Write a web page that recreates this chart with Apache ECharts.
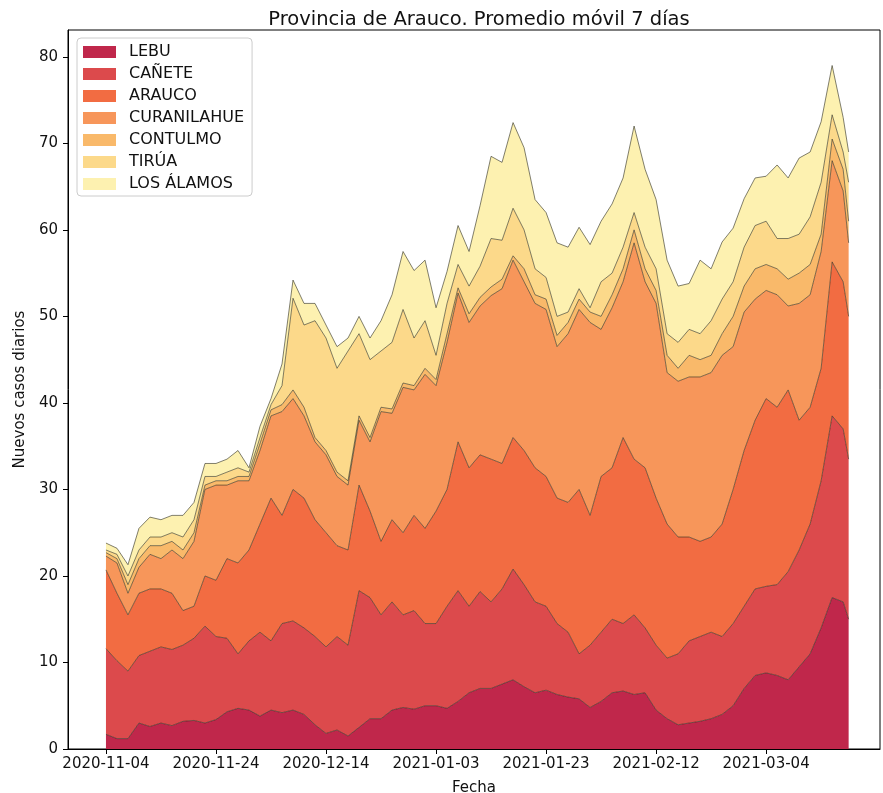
<!DOCTYPE html>
<html><head><meta charset="utf-8">
<script src="https://cdn.jsdelivr.net/npm/echarts@6/dist/echarts.min.js"></script>
<style>html,body{margin:0;padding:0;background:#fff}#c{width:883px;height:793px}</style>
</head><body><div id="c"></div>
<script>
const dates = ['2020-11-04','2020-11-06','2020-11-08','2020-11-10','2020-11-12','2020-11-14','2020-11-16','2020-11-18','2020-11-20','2020-11-22','2020-11-24','2020-11-26','2020-11-28','2020-11-30',
'2020-12-02','2020-12-04','2020-12-06','2020-12-08','2020-12-10','2020-12-12','2020-12-14','2020-12-16','2020-12-18','2020-12-20','2020-12-22','2020-12-24','2020-12-26','2020-12-28','2020-12-30',
'2021-01-01','2021-01-03','2021-01-05','2021-01-07','2021-01-09','2021-01-11','2021-01-13','2021-01-15','2021-01-17','2021-01-19','2021-01-21','2021-01-23','2021-01-25','2021-01-27','2021-01-29','2021-01-31',
'2021-02-02','2021-02-04','2021-02-06','2021-02-08','2021-02-10','2021-02-12','2021-02-14','2021-02-16','2021-02-18','2021-02-20','2021-02-22','2021-02-24','2021-02-26','2021-02-28',
'2021-03-02','2021-03-04','2021-03-06','2021-03-08','2021-03-10','2021-03-12','2021-03-14','2021-03-16','2021-03-18','2021-03-19'];

const lebu = [1.7,1.2,1.2,3.0,2.6,3.0,2.7,3.2,3.3,3.0,3.4,4.3,4.7,4.5,3.8,4.5,4.2,4.5,4.0,2.8,1.8,2.2,1.5,2.5,3.5,3.5,4.5,4.8,4.6,5.0,5.0,4.7,5.5,6.5,7.0,7.0,7.5,8.0,7.2,6.5,6.8,6.3,6.0,5.8,4.8,5.5,6.5,6.7,6.3,6.5,4.5,3.5,2.8,3.0,3.2,3.5,4.0,5.0,7.0,8.5,8.8,8.5,8.0,9.5,11.0,14.0,17.5,17.0,15.0];
const canete = [9.9,9.0,7.8,7.8,8.7,8.8,8.8,8.8,9.5,11.2,9.6,8.5,6.3,8.0,9.7,8.0,10.3,10.3,10.0,10.2,10.0,10.8,10.5,15.8,14.0,12.0,12.5,10.7,11.4,9.5,9.5,11.8,12.8,10.0,11.2,10.0,11.0,12.8,11.8,10.5,9.7,8.2,7.5,5.2,7.2,8.0,8.5,7.8,9.2,7.5,7.5,7.0,8.2,9.5,9.8,10.0,9.0,9.5,9.5,10.0,10.0,10.5,12.5,13.5,15.0,17.0,21.0,20.0,18.5];
const arauco = [9.1,7.8,6.5,7.2,7.2,6.7,6.5,4.0,3.7,5.8,6.5,9.2,10.5,10.5,12.5,16.5,12.5,15.2,15.0,13.5,13.2,10.5,11.0,12.2,10.0,8.5,9.5,9.5,11.0,11.0,13.0,13.5,17.2,16.0,15.8,16.5,14.5,15.2,15.5,15.5,15.0,14.5,15.0,19.0,15.0,18.0,17.5,21.5,18.0,18.5,17.0,15.5,13.5,12.0,11.0,11.0,13.0,15.5,18.0,19.5,21.7,20.5,21.0,15.0,13.5,13.0,17.8,17.0,16.5];
const curanilahue = [1.6,3.5,2.5,3.0,4.0,3.5,5.0,6.0,7.5,10.0,11.0,8.5,9.5,8.0,8.5,9.5,12.0,10.5,9.5,9.0,9.0,8.0,7.5,7.5,8.0,15.0,12.3,16.8,14.5,17.8,14.5,17.0,17.2,16.8,17.2,18.9,20.2,20.5,19.5,19.0,19.3,17.5,19.5,20.8,22.3,17.0,18.5,18.0,25.0,21.5,22.5,17.5,18.0,18.5,19.0,19.0,19.5,16.5,16.0,14.0,12.5,13.0,9.7,13.5,13.0,13.5,11.7,10.5,8.5];
const contulmo = [0.4,0.5,1.0,1.0,1.0,1.5,1.0,1.0,1.0,0.5,0.5,0.5,0.5,0.5,0.8,0.7,0.8,1.0,1.0,0.5,0.5,0.5,0.5,0.5,0.5,0.5,0.5,0.5,0.5,0.7,0.7,1.0,0.6,1.0,1.0,1.0,1.1,0.5,1.5,1.0,1.2,1.3,1.3,1.2,1.2,1.5,1.5,1.5,1.5,1.5,1.5,2.0,1.5,2.5,2.0,2.0,2.5,3.5,3.0,3.5,3.0,3.0,3.1,3.5,3.5,2.0,2.5,2.5,2.5];
const tirua = [0.3,0.5,1.0,1.0,1.0,1.0,1.0,1.5,1.5,1.0,0.5,1.0,1.0,0.5,0.7,0.6,2.2,10.6,9.5,13.5,13.0,12.0,15.0,9.5,9.0,6.5,7.7,8.5,5.5,5.5,2.8,3.5,2.7,3.2,3.6,5.6,4.5,5.5,4.5,3.0,2.5,2.2,1.2,1.2,0.5,4.0,2.5,2.5,2.0,2.5,2.5,2.5,3.0,3.0,3.0,4.0,4.0,4.0,4.5,5.0,5.0,3.5,4.7,4.5,5.5,6.0,2.8,2.0,4.5];
const losAlamos = [0.8,0.7,1.3,2.5,2.3,2.0,2.0,2.5,2.0,1.5,1.5,1.5,2.0,0.5,1.3,0.7,2.5,2.1,2.5,2.0,1.5,2.5,1.5,2.0,2.5,3.5,5.5,6.7,7.8,7.0,5.5,3.7,4.5,4.0,7.0,9.5,9.0,9.9,9.5,8.0,7.5,8.5,7.5,7.1,7.3,7.0,8.0,8.0,10.0,9.0,8.0,8.5,6.5,5.3,8.5,6.0,6.6,6.2,5.6,5.5,5.2,8.5,7.0,8.8,7.5,7.0,5.7,4.0,3.5];

const seriesNames = ['LEBU','CAÑETE','ARAUCO','CURANILAHUE','CONTULMO','TIRÚA','LOS ÁLAMOS'];
const seriesValues = [lebu, canete, arauco, curanilahue, contulmo, tirua, losAlamos];
const seriesColors = ['#c0274b','#dc4a4c','#f26c42','#f7965a','#f9b96a','#fcd98a','#fdf1b0'];
const xTickLabels = ['2020-11-04','2020-11-24','2020-12-14','2021-01-03','2021-01-23','2021-02-12','2021-03-04'];
const yTicks = [0,10,20,30,40,50,60,70,80];

const DAY = 86400000;
function parseDate(s){ const p = s.split('-').map(Number); return Date.UTC(p[0], p[1]-1, p[2]); }
const t0 = parseDate(dates[0]);
function dayOf(s){ return Math.round((parseDate(s) - t0) / DAY); }
function fmtDay(v){ const d = new Date(t0 + Math.round(v) * DAY); const mm = String(d.getUTCMonth()+1).padStart(2,'0'); const dd = String(d.getUTCDate()).padStart(2,'0'); return d.getUTCFullYear()+'-'+mm+'-'+dd; }
const xTickDays = xTickLabels.map(dayOf);
const X_MIN_DAY = -6.9, X_MAX_DAY = 140.7;
const FONT = 'DejaVu Sans';

const chart = echarts.init(document.getElementById('c'), null, {renderer:'canvas'});
chart.setOption({
  animation: false,
  backgroundColor: '#fff',
  title: { text: 'Provincia de Arauco. Promedio móvil 7 días', left: 474, top: 5, textAlign: 'center',
    textStyle: { fontFamily: FONT, fontSize: 19.5, fontWeight: 'normal', color: '#111' } },
  legend: {
    orient: 'vertical', left: 77, top: 38, icon: 'rect', itemWidth: 33, itemHeight: 12, itemGap: 6,
    padding: [6, 8, 4, 6], borderColor: '#ccc', borderWidth: 1, borderRadius: 4, backgroundColor: 'rgba(255,255,255,0.85)',
    textStyle: { fontFamily: FONT, fontSize: 16, color: '#111', padding: [0,0,0,8] },
    itemStyle: { borderWidth: 0 },
    data: seriesNames
  },
  grid: { left: 68, right: 3, top: 30, bottom: 44, outerBoundsMode: 'none', containLabel: false,
    show: true, borderColor: '#000', borderWidth: 1, backgroundColor: 'transparent' },
  xAxis: [{
    type: 'time', min: t0 + X_MIN_DAY*DAY, max: t0 + X_MAX_DAY*DAY, show: false,
    splitLine: { show: false }
  }, {
    type: 'value', min: X_MIN_DAY, max: X_MAX_DAY, position: 'bottom',
    name: 'Fecha', nameLocation: 'middle', nameGap: 32,
    nameTextStyle: { fontFamily: FONT, fontSize: 15, color: '#111' },
    axisLine: { show: true, onZero: false, lineStyle: { color: '#000', width: 1 } },
    axisTick: { show: true, length: 5, lineStyle: { color: '#000' }, customValues: xTickDays },
    axisLabel: { fontFamily: FONT, fontSize: 15, color: '#111', margin: 8, customValues: xTickDays, formatter: fmtDay },
    splitLine: { show: false }
  }],
  yAxis: {
    type: 'value', min: 0, max: 83.1,
    name: 'Nuevos casos diarios', nameLocation: 'middle', nameGap: 39,
    nameTextStyle: { fontFamily: FONT, fontSize: 15, color: '#111' },
    axisLine: { show: true, onZero: false, lineStyle: { color: '#000', width: 1 } },
    axisTick: { show: true, length: 5, lineStyle: { color: '#000' }, customValues: yTicks },
    axisLabel: { fontFamily: FONT, fontSize: 15, color: '#111', margin: 10, customValues: yTicks },
    splitLine: { show: false }
  },
  series: seriesNames.map((name, i) => ({
    name: name, type: 'line', stack: 'total', symbol: 'none', smooth: false, xAxisIndex: 0,
    data: dates.map((d, j) => [parseDate(d), seriesValues[i][j]]),
    itemStyle: { color: seriesColors[i] },
    lineStyle: { color: '#2a2a1c', width: 0.7, opacity: 0.85 },
    areaStyle: { color: seriesColors[i], opacity: 1 },
    emphasis: { disabled: true }
  }))
});
</script></body></html>
